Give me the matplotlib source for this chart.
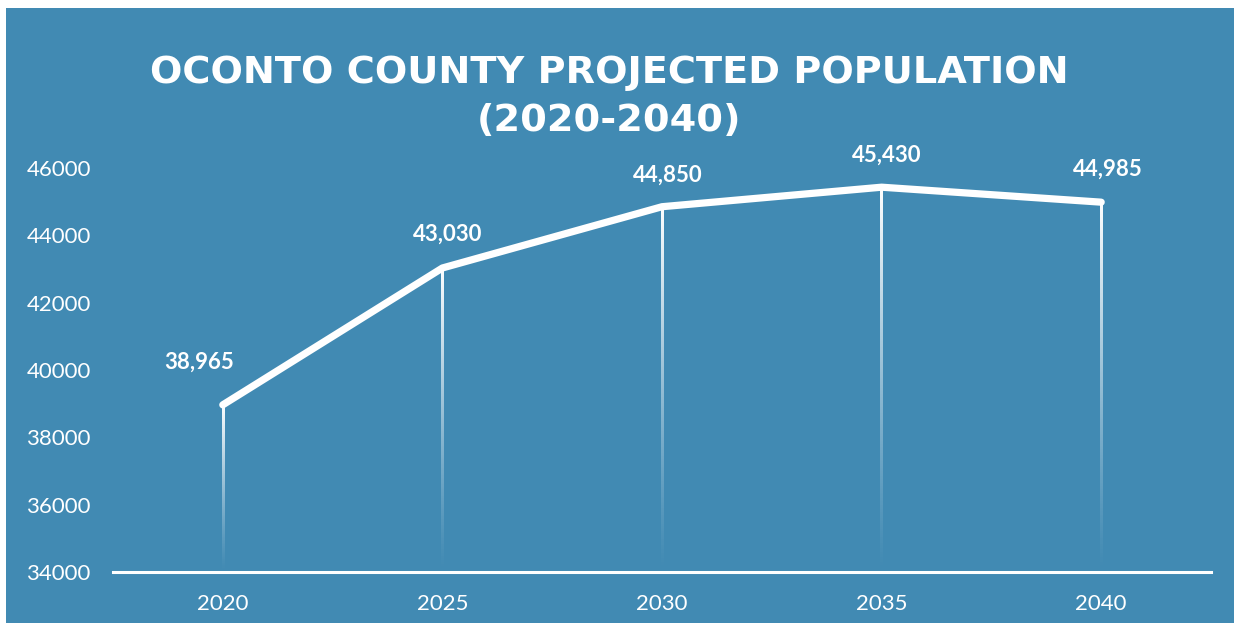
import numpy as np
import matplotlib
matplotlib.use("Agg")
import matplotlib.pyplot as plt
from matplotlib.patches import Rectangle

# projected population, Oconto County
years = ["2020", "2025", "2030", "2035", "2040"]
population = [38965, 43030, 44850, 45430, 44985]
y_ticks = [34000, 36000, 38000, 40000, 42000, 44000, 46000]

# value-label nudges in points (first one sits left of the rising line)
label_offsets = [(-17, 31), (4, 24), (4, 23), (4, 23), (5, 24)]

BG = "#418ab3"
WHITE = "#ffffff"
plt.rcParams["font.family"] = ["Lato", "DejaVu Sans"]

fig = plt.figure(figsize=(12.34, 6.23), dpi=100, facecolor=WHITE)
fig.patches.append(Rectangle((6 / 1234, 0), 1 - 6 / 1234, 1 - 8 / 623,
                             transform=fig.transFigure, facecolor=BG,
                             edgecolor="none", zorder=-5))

ax = fig.add_axes([113 / 1234, 51 / 623, 1098 / 1234, 404 / 623])
ax.set_zorder(2)
ax.set_facecolor("none")
x = np.arange(len(years))
base = y_ticks[0]

# drop lines: thin white strips fading out toward the axis
half_w = 1.2 / 220
grad = np.zeros((256, 1, 4))
grad[..., :3] = 1.0
grad[:, 0, 3] = np.linspace(1.0, 0.0, 256) ** 1.2
for xi, val in zip(x, population):
    ax.imshow(grad, extent=[xi - half_w, xi + half_w, base, val],
              aspect="auto", origin="upper", interpolation="bilinear",
              zorder=2)

ax.plot(x, population, color=WHITE, lw=5.2, solid_capstyle="round",
        solid_joinstyle="round", zorder=3, clip_on=False)

for xi, val, (dx, dy) in zip(x, population, label_offsets):
    ax.annotate(f"{val:,}", (xi, val), xytext=(dx, dy),
                textcoords="offset points", ha="center", va="center",
                color=WHITE, fontsize=16, fontweight="bold",
                annotation_clip=False)

ax.set_xlim(-0.5, len(years) - 0.5)
ax.set_ylim(base, y_ticks[-1])
ax.set_xticks(x)
ax.set_xticklabels(years)
ax.set_yticks(y_ticks)
ax.set_yticklabels([str(t) for t in y_ticks])
ax.tick_params(axis="both", length=0, colors=WHITE, labelsize=16)
ax.tick_params(axis="y", pad=16)
ax.tick_params(axis="x", pad=16)

for side in ("top", "right", "left"):
    ax.spines[side].set_visible(False)
ax.spines["bottom"].set_color(WHITE)
ax.spines["bottom"].set_linewidth(2.2)
ax.spines["bottom"].set_zorder(4)

fig.text(609 / 1234, 1 - 73 / 623, "OCONTO COUNTY PROJECTED POPULATION",
         ha="center", va="center", color=WHITE, fontsize=27.5,
         fontweight="bold", family=["DejaVu Sans"])
fig.text(609 / 1234, 1 - 121 / 623, "(2020-2040)",
         ha="center", va="center", color=WHITE, fontsize=27.5,
         fontweight="bold", family=["DejaVu Sans"])

fig.savefig("out.png", dpi=100, facecolor=WHITE)
